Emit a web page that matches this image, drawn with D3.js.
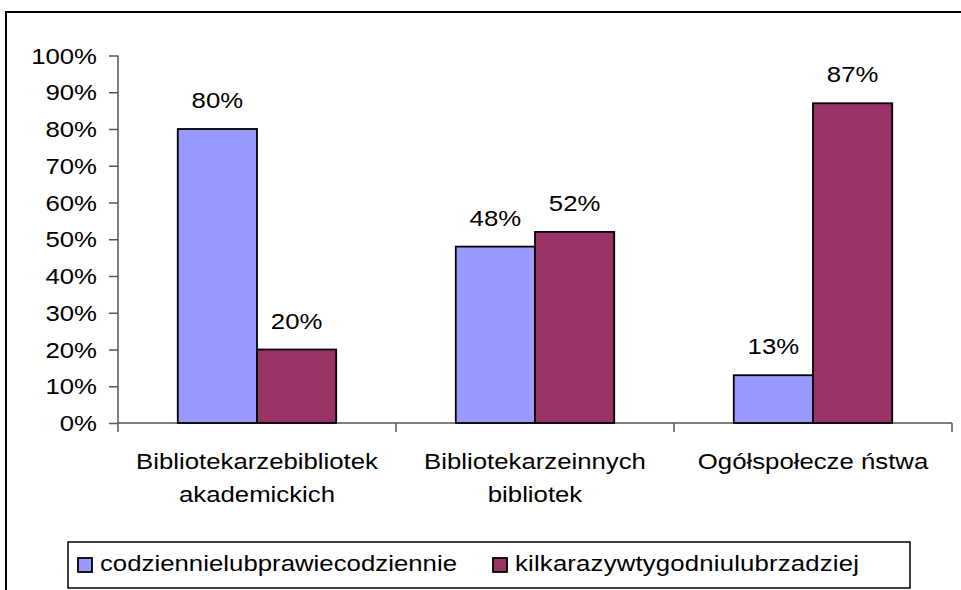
<!DOCTYPE html>
<html>
<head>
<meta charset="utf-8">
<script src="https://cdn.jsdelivr.net/npm/d3@7"></script>
<style>
  body { margin: 0; background: #fff; }
  text { font-family: "Liberation Sans", Arial, sans-serif; fill: #000; }
</style>
</head>
<body>
<div class="chart"></div>
<script>
const categories = [["Bibliotekarzebibliotek", "akademickich"], ["Bibliotekarzeinnych", "bibliotek"], ["Ogółspołecze ństwa"]];
const seriesNames = ["codziennielubprawiecodziennie", "kilkarazywtygodniulubrzadziej"];
const daily = [80, 48, 13];
const weekly = [20, 52, 87];
const yTicks = [0, 10, 20, 30, 40, 50, 60, 70, 80, 90, 100];

const w = 961, h = 590;
const fs = 23, sx = 1.12;   // text looks a bit wide in the picture
const colors = ["#9999ff", "#993366"];

var svg = d3.select(".chart").append("svg")
    .attr("width", w)
    .attr("height", h);

// outer frame
svg.append("rect")
   .attr("x", 6).attr("y", 12)
   .attr("width", 1000).attr("height", 700)
   .attr("fill", "none").attr("stroke", "#000").attr("stroke-width", 2);

var xScale = d3.scaleBand().domain(d3.range(categories.length)).range([118, 952]);
var x1 = d3.scaleBand().domain(d3.range(seriesNames.length))
    .range([xScale.bandwidth() * 0.215, xScale.bandwidth() * 0.785]);
var yScale = d3.scaleLinear().domain([0, 100]).range([423, 55.5]);

function label(g, x, y, str, anchor) {
  return g.append("text")
   .attr("transform", "translate(" + x + "," + y + ") scale(" + sx + ",1)")
   .attr("text-anchor", anchor || "middle")
   .style("font-size", fs + "px")
   .text(str);
}

// axes
var axisCol = "#555";
var yAxis = d3.axisLeft(yScale).tickValues(yTicks).tickSize(9).tickFormat("");
var gy = svg.append("g").attr("transform", "translate(118,0)").call(yAxis);
gy.select(".domain").attr("stroke", axisCol).attr("stroke-width", 1.5).attr("d", "M0," + yScale(100) + "V" + yScale(0));
gy.selectAll(".tick line").attr("stroke", axisCol).attr("stroke-width", 1.5);

yTicks.forEach(function (t) {
  label(svg, 97, yScale(t) + 8, t + "%", "end");
});

var gx = svg.append("g").attr("transform", "translate(0,423)");
gx.append("line").attr("x1", 118).attr("x2", 952).attr("y1", 0).attr("y2", 0)
  .attr("stroke", axisCol).attr("stroke-width", 1.5);
var edges = d3.range(categories.length + 1).map(i => i < categories.length ? xScale(i) : xScale.range()[1]);
gx.selectAll(".ctick").data(edges).enter().append("line")
  .attr("x1", d => d).attr("x2", d => d).attr("y1", 0).attr("y2", 9)
  .attr("stroke", axisCol).attr("stroke-width", 1.5);

categories.forEach(function (lines, i) {
  var cx = xScale(i) + xScale.bandwidth() / 2;
  lines.forEach(function (ln, j) {
    label(svg, cx, 469 + j * 33, ln);
  });
});

// bars
var data = [];
categories.forEach(function (c, i) {
  data.push({ c: i, s: 0, v: daily[i] });
  data.push({ c: i, s: 1, v: weekly[i] });
});

svg.selectAll(".bar").data(data).enter().append("rect")
   .attr("class", "bar")
   .attr("x", d => xScale(d.c) + x1(d.s))
   .attr("y", d => yScale(d.v))
   .attr("width", x1.bandwidth())
   .attr("height", d => yScale(0) - yScale(d.v))
   .attr("fill", d => colors[d.s])
   .attr("stroke", "#000")
   .attr("stroke-width", 1.8);

data.forEach(function (d) {
  label(svg, xScale(d.c) + x1(d.s) + x1.bandwidth() / 2, yScale(d.v) - 21, d.v + "%");
});

// legend
var lg = svg.append("g");
lg.append("rect").attr("x", 68).attr("y", 542).attr("width", 842).attr("height", 46)
  .attr("fill", "#fff").attr("stroke", "#000").attr("stroke-width", 1.5);
var legX = [78, 493];
var legW = [357, 344];
seriesNames.forEach(function (s, i) {
  lg.append("rect").attr("x", legX[i]).attr("y", 558).attr("width", 14).attr("height", 14)
    .attr("fill", colors[i]).attr("stroke", "#000").attr("stroke-width", 1.8);
  label(lg, legX[i] + 22, 571, s, "start")
    .attr("textLength", legW[i] / sx)
    .attr("lengthAdjust", "spacing");
});
</script>
</body>
</html>
